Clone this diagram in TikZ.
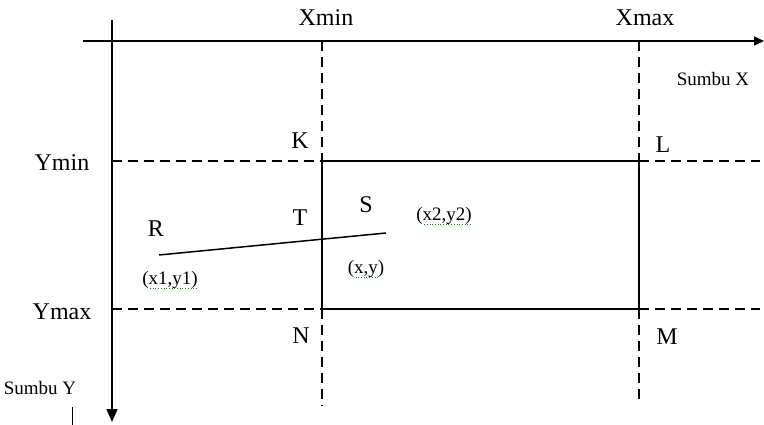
\documentclass[tikz,border=0pt]{standalone}
\usepackage{fontspec}
\setmainfont{Liberation Serif}
\usetikzlibrary{arrows.meta}
\begin{document}
\begin{tikzpicture}[x=1pt,y=-1pt,
  axis/.style={line width=1.5pt},
  guide/.style={line width=1.2pt,dash pattern=on 10pt off 6pt},
  edge/.style={line width=1.5pt},
  lbl/.style={font=\fontsize{24}{26}\selectfont,inner sep=0pt},
  small/.style={font=\fontsize{19}{21}\selectfont,inner sep=0pt},
  spell/.style={green!55!black,line width=0.7pt,dotted}]
\useasboundingbox (0,0) rectangle (764,425);
% axes
\coordinate (xa0) at (83,41);
\coordinate (xa1) at (764,41);
\coordinate (ya0) at (112,20);
\coordinate (ya1) at (112,422);
\draw[axis,-{Triangle[length=10pt,width=9pt]}] (xa0) -- (xa1);
\draw[axis,-{Triangle[length=13pt,width=11pt]}] (ya0) -- (ya1);
% window corners
\coordinate (K) at (322,161);
\coordinate (L) at (639,161);
\coordinate (M) at (639,309);
\coordinate (N) at (322,309);
% dashed guides
\coordinate (xmint) at (322,41);
\coordinate (xminb) at (322,406);
\coordinate (xmaxt) at (639,41);
\coordinate (xmaxb) at (639,404);
\coordinate (ymin0) at (112,161);
\coordinate (ymin1) at (760,161);
\coordinate (ymax0) at (112,309);
\coordinate (ymax1) at (760,309);
\draw[guide] (xmint) -- (K);
\draw[guide] (N) -- (xminb);
\draw[guide] (xmaxt) -- (L);
\draw[guide] (M) -- (xmaxb);
\draw[guide] (ymin0) -- (K);
\draw[guide] (L) -- (ymin1);
\draw[guide] (ymax0) -- (N);
\draw[guide] (M) -- (ymax1);
% window
\draw[edge] (K) -- (N) -- (M) -- (L);
\draw[line width=2.2pt] (K) -- (L);
% line segment
\coordinate (Rp) at (159,255);
\coordinate (Sp) at (386,233);
\draw[edge] (Rp) -- (Sp);
% labels
\node[lbl] (tXmin) at (326,18) {Xmin};
\node[lbl] (tXmax) at (645,18) {Xmax};
\node[small] (tSX) at (713,79) {Sumbu X};
\node[lbl] (tK) at (300,141) {K};
\node[lbl] (tL) at (663,145) {L};
\node[lbl] (tYmin) at (62,163) {Ymin};
\node[lbl] (tT) at (300,218) {T};
\node[lbl] (tS) at (366,205) {S};
\node[small] (tx2) at (444,216) {(x2,y2)};
\node[lbl] (tR) at (156,229) {R};
\node[small] (tx1) at (170,280) {(x1,y1)};
\node[small] (txy) at (366,269) {(x,y)};
\node[lbl] (tYmax) at (62,312) {Ymax};
\node[lbl] (tN) at (301,336) {N};
\node[lbl] (tM) at (667,337) {M};
\node[small] (tSY) at (40,388) {Sumbu Y};
% spell-check underlines
\draw[spell] (tx2.south west) ++(8,0) -- ++(46,0);
\draw[spell] (tx1.south west) ++(8,0) -- ++(46,0);
\draw[spell] (txy.south west) ++(8,0) -- ++(22,0);
% small tick
\coordinate (tk0) at (72,407);
\coordinate (tk1) at (72,425);
\draw[line width=0.9pt] (tk0) -- (tk1);
\end{tikzpicture}
\end{document}
